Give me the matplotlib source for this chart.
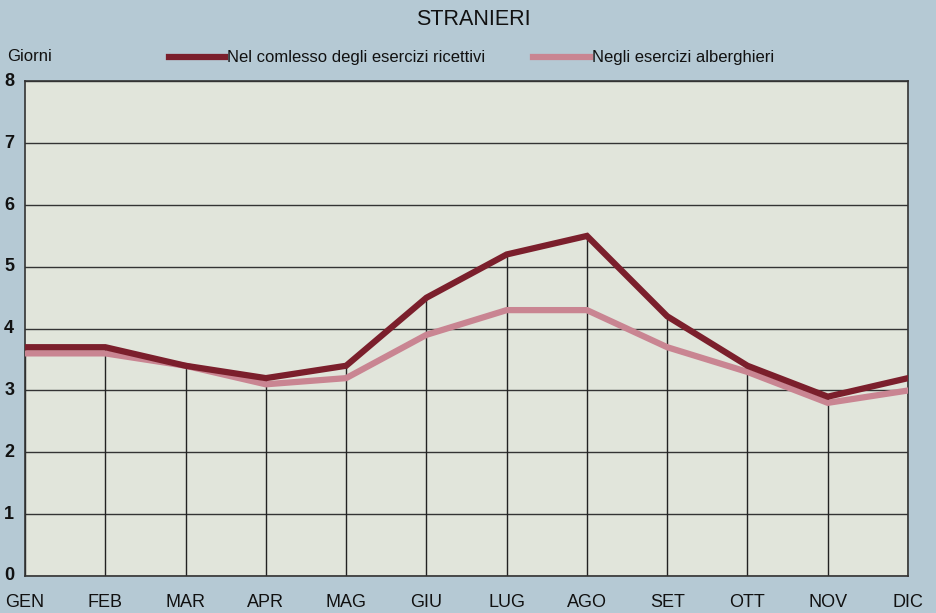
#!/usr/bin/env python3
"""Permanenza media degli stranieri per mese (giorni)."""

import matplotlib
matplotlib.use("Agg")
import matplotlib.pyplot as plt

months = ["GEN", "FEB", "MAR", "APR", "MAG", "GIU", "LUG", "AGO", "SET", "OTT", "NOV", "DIC"]
ricettivi = [3.7, 3.7, 3.4, 3.2, 3.4, 4.5, 5.2, 5.5, 4.2, 3.4, 2.9, 3.2]
alberghieri = [3.6, 3.6, 3.4, 3.1, 3.2, 3.9, 4.3, 4.3, 3.7, 3.3, 2.8, 3.0]
y_ticks = [0, 1, 2, 3, 4, 5, 6, 7, 8]

DARK = "#7b1f2c"
PINK = "#c98592"
BG = "#b5c9d4"
PANEL = "#e1e5db"

plt.rcParams["font.family"] = ["Liberation Sans", "DejaVu Sans"]

fig = plt.figure(figsize=(9.37, 6.13), dpi=100, facecolor=BG)
ax = fig.add_axes([0.0267, 0.0604, 0.9424, 0.8069], facecolor=PANEL)

x = list(range(len(months)))

# grid: horizontal lines full width, vertical lines only up to the main line
for y in y_ticks:
    ax.axhline(y, color="#333333", lw=1.0, zorder=1)
ax.vlines(x, 0, ricettivi, color="#222222", lw=1.0, zorder=1)

ax.plot(x, alberghieri, color=PINK, lw=4.5, solid_joinstyle="miter", zorder=3)
ax.plot(x, ricettivi, color=DARK, lw=4.5, solid_joinstyle="miter", zorder=4)

ax.set_xlim(0, len(months) - 1)
ax.set_ylim(0, 8)
for s in ax.spines.values():
    s.set_color("#333333")
    s.set_linewidth(1.2)
ax.set_xticks([])
ax.set_yticks([])

# tick labels placed in figure space like the printed chart
for v in y_ticks:
    ax.annotate(str(v), xy=(0, v), xycoords=("figure fraction", "data"),
                xytext=(3, 0), textcoords="offset points",
                ha="left", va="center", fontsize=13, fontweight="bold", color="#111111")
for i, m in enumerate(months):
    ax.annotate(m, xy=(i, 0), xycoords="data", xytext=(0, -19), textcoords="offset points",
                ha="center", va="center", fontsize=13, color="#111111")

fig.text(0.505, 0.968, "STRANIERI", ha="center", va="center", fontsize=15.5, color="#111111")
fig.text(0.008, 0.908, "Giorni", ha="left", va="center", fontsize=12, color="#111111")

# legend drawn by hand like the original
fig.add_artist(plt.Line2D([0.180, 0.240], [0.907, 0.907], color=DARK, lw=4.5))
fig.text(0.242, 0.907, "Nel comlesso degli esercizi ricettivi", ha="left", va="center",
         fontsize=12, color="#111111")
fig.add_artist(plt.Line2D([0.569, 0.630], [0.907, 0.907], color=PINK, lw=4.5))
fig.text(0.632, 0.907, "Negli esercizi alberghieri", ha="left", va="center",
         fontsize=12, color="#111111")

fig.savefig("out.png", dpi=100, facecolor=BG)
